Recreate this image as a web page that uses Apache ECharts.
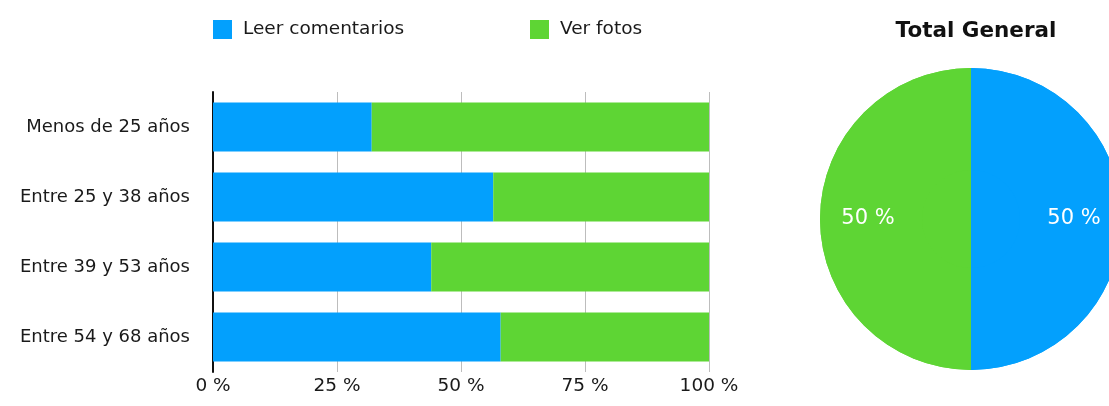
<!DOCTYPE html>
<html>
<head>
<meta charset="utf-8">
<script src="https://cdn.jsdelivr.net/npm/echarts@6/dist/echarts.min.js"></script>
<style>
html,body{margin:0;padding:0;background:#fff;}
#c{width:1109px;height:406px;}
</style>
</head>
<body>
<div id="c"></div>
<script>
var categories = ['Menos de 25 años', 'Entre 25 y 38 años', 'Entre 39 y 53 años', 'Entre 54 y 68 años'];
var seriesNames = ['Leer comentarios', 'Ver fotos'];
var leerComentarios = [32, 56.5, 44, 58];
var verFotos = [68, 43.5, 56, 42];
var pieTitle = 'Total General';
var pieValues = [50, 50];
var xTicks = [0, 25, 50, 75, 100];

var BLUE = '#03A0FD';
var GREEN = '#5ED534';
var FONT = 'DejaVu Sans';

var chart = echarts.init(document.getElementById('c'), null, {renderer: 'canvas'});
var pieData = seriesNames.map(function (n, i) { return {name: n, value: pieValues[i]}; });

function legendFor(i, left) {
  return {
    data: [seriesNames[i]],
    left: left, top: 15,
    itemWidth: 19, itemHeight: 19,
    icon: 'rect',
    selectedMode: false,
    textStyle: {fontFamily: FONT, fontSize: 18.5, color: '#1a1a1a', padding: [0, 0, 0, 6]}
  };
}

chart.setOption({
  backgroundColor: '#ffffff',
  animation: false,
  textStyle: {fontFamily: FONT},
  title: {
    text: pieTitle,
    left: 971, top: 15, textAlign: 'center',
    textStyle: {fontFamily: FONT, fontSize: 21.5, fontWeight: 'bold', color: '#111'}
  },
  legend: [legendFor(0, 208), legendFor(1, 525)],
  grid: {left: 213, right: 400, top: 92, bottom: 34},
  xAxis: {
    type: 'value', min: 0, max: 100, interval: 25,
    axisLine: {show: false},
    axisTick: {show: false},
    splitLine: {show: true, lineStyle: {color: '#bdbdbd', width: 1}},
    axisLabel: {
      fontFamily: FONT, fontSize: 18.5, color: '#1a1a1a', margin: 5,
      formatter: function (v) { return xTicks.indexOf(v) >= 0 ? v + ' %' : ''; }
    }
  },
  yAxis: {
    type: 'category', data: categories, inverse: true,
    axisLine: {show: true, lineStyle: {color: '#111', width: 2}},
    axisTick: {show: false},
    axisLabel: {fontFamily: FONT, fontSize: 18, color: '#1a1a1a', margin: 23}
  },
  series: [
    {
      name: seriesNames[0], type: 'bar', stack: 'a', data: leerComentarios,
      barWidth: '70%', itemStyle: {color: BLUE}
    },
    {
      name: seriesNames[1], type: 'bar', stack: 'a', data: verFotos,
      barWidth: '70%', itemStyle: {color: GREEN}
    },
    {
      type: 'pie', center: [971, 219], radius: 151, startAngle: 90,
      data: pieData, label: {show: false}, labelLine: {show: false},
      color: [BLUE, GREEN], silent: true,
      itemStyle: {borderWidth: 0}
    },
    {
      type: 'pie', center: [971, 219], radius: [49, 151], startAngle: 90,
      data: pieData, silent: true,
      color: ['rgba(0,0,0,0)', 'rgba(0,0,0,0)'],
      itemStyle: {borderWidth: 0},
      label: {
        show: true, position: 'inside', color: '#fff',
        fontFamily: FONT, fontSize: 21,
        formatter: function (p) { return Math.round(p.percent) + ' %'; }
      },
      labelLine: {show: false}
    }
  ]
});
</script>
</body>
</html>
